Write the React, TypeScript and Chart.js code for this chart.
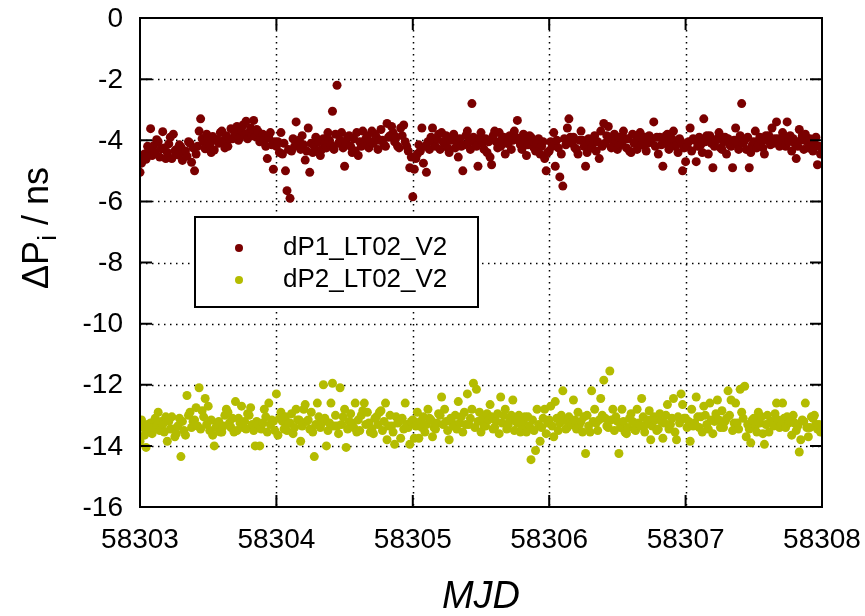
import React, { useEffect, useRef } from 'react';
import { Chart, registerables } from 'chart.js';

Chart.register(...registerables);

// Sampling grid: 16-minute tracks (90 per day) starting at MJD 58303
const MJD_START = 58303;
const SAMPLES_PER_DAY = 90;

const X_TICKS = [58303, 58304, 58305, 58306, 58307, 58308];
const Y_TICKS = [0, -2, -4, -6, -8, -10, -12, -14, -16];
const SERIES_LABELS = ['dP1_LT02_V2', 'dP2_LT02_V2'];
const SERIES_COLORS = ['#7a0000', '#b4bc00'];
const X_TITLE = 'MJD';

// dP1_LT02_V2 (ns)
const dP1 = [
  -5.05, -4.75, -4.58, -4.45, -4.62, -4.20, -4.30, -3.62, -4.50, -4.18, -4.42, -3.98,
  -4.05, -4.55, -4.28, -3.72, -4.25, -4.60, -4.40, -4.12, -3.90, -4.60, -3.80, -4.35,
  -4.30, -4.48, -4.15, -4.22, -4.66, -4.40, -4.35, -4.52, -4.05, -4.10, -4.72, -4.25,
  -5.00, -4.45, -4.20, -3.70, -3.30, -3.95, -4.05, -4.28, -3.80, -3.95, -4.15, -4.40,
  -3.88, -4.32, -4.00, -3.98, -4.10, -3.75, -3.70, -4.02, -4.25, -3.85, -4.20, -3.95,
  -3.62, -3.95, -3.70, -3.78, -3.55, -4.00, -3.90, -3.68, -3.50, -3.82, -3.38, -3.95,
  -3.75, -3.60, -3.85, -3.35, -3.88, -3.65, -3.72, -4.05, -3.90, -3.80, -4.00, -4.20,
  -4.60, -3.92, -3.75, -4.15, -4.95, -4.05,

  -4.20, -4.05, -4.40, -3.75, -4.45, -4.10, -5.00, -5.65, -4.30, -5.90, -4.35, -3.95,
  -4.20, -3.40, -4.15, -4.00, -4.30, -3.85, -4.15, -4.65, -4.35, -3.60, -5.05, -4.10,
  -4.40, -4.20, -3.90, -4.35, -4.05, -4.50, -4.30, -3.95, -4.10, -4.25, -3.75, -4.00,
  -4.15, -3.05, -4.30, -3.80, -2.20, -4.10, -4.00, -3.75, -4.25, -4.85, -4.10, -3.90,
  -3.85, -4.20, -4.40, -3.95, -4.35, -3.75, -4.50, -4.05, -4.20, -3.70, -4.15, -3.95,
  -3.85, -4.25, -4.05, -3.70, -4.10, -3.80, -3.90, -4.30, -4.00, -3.65, -4.00, -4.15,
  -4.20, -3.45, -3.90, -3.85, -3.55, -3.75, -4.05, -3.90, -4.20, -4.25, -3.60, -3.85,
  -3.50, -4.05, -4.20, -4.35, -4.90, -4.55,

  -5.85, -4.95, -4.60, -4.45, -4.15, -4.35, -3.60, -4.75, -4.20, -5.05, -4.05, -4.30,
  -3.90, -3.60, -4.10, -4.20, -3.95, -3.80, -4.30, -3.75, -4.05, -4.10, -3.85, -4.25,
  -4.40, -4.00, -3.90, -3.80, -4.25, -4.05, -4.55, -3.95, -4.20, -5.00, -4.15, -3.85,
  -3.70, -4.05, -4.30, -2.80, -3.90, -4.10, -4.20, -4.85, -3.95, -3.75, -4.10, -4.30,
  -3.95, -4.40, -4.05, -4.55, -4.80, -3.85, -3.70, -4.05, -4.25, -3.75, -4.20, -3.95,
  -3.90, -4.45, -4.10, -4.10, -3.85, -4.30, -4.00, -3.70, -3.90, -3.35, -4.00, -4.15,
  -4.30, -3.80, -4.00, -4.50, -4.15, -3.85, -3.90, -4.05, -4.25, -4.35, -4.10, -3.95,
  -4.45, -4.20, -4.05, -4.60, -5.00, -4.40,

  -4.35, -4.05, -4.20, -3.75, -4.85, -4.00, -4.25, -5.20, -4.45, -5.50, -3.95, -4.15,
  -3.60, -3.30, -3.90, -4.10, -3.90, -4.25, -4.30, -4.45, -4.00, -3.70, -4.00, -4.20,
  -4.85, -4.40, -3.95, -4.05, -4.25, -4.10, -3.85, -4.35, -4.05, -4.60, -3.70, -4.20,
  -3.45, -4.10, -3.85, -3.55, -3.95, -4.25, -4.20, -3.80, -4.00, -4.30, -3.90, -4.15,
  -4.10, -3.70, -3.95, -4.25, -3.95, -4.35, -4.40, -3.80, -4.10, -4.05, -4.30, -3.90,
  -3.75, -4.15, -4.00, -3.90, -4.35, -4.10, -3.85, -4.05, -3.95, -3.40, -4.20, -3.90,
  -4.45, -3.90, -4.15, -4.85, -4.10, -3.85, -3.80, -4.30, -4.05, -3.95, -3.70, -4.20,
  -4.15, -4.40, -3.95, -4.05, -5.00, -4.25,

  -4.70, -4.20, -4.05, -3.60, -4.35, -3.95, -4.00, -4.70, -4.20, -3.90, -4.15, -4.40,
  -3.30, -4.05, -3.85, -4.45, -3.85, -4.10, -4.90, -4.20, -4.00, -3.95, -3.75, -4.25,
  -4.30, -4.05, -3.90, -4.45, -3.95, -4.15, -4.20, -4.90, -4.00, -3.60, -4.10, -4.30,
  -3.85, -2.80, -4.10, -4.00, -4.30, -3.90, -4.90, -4.40, -4.15, -4.05, -3.70, -4.25,
  -4.15, -3.90, -4.05, -4.25, -4.45, -3.85, -4.00, -3.85, -4.15, -3.60, -4.10, -3.95,
  -3.40, -3.95, -4.20, -4.00, -3.75, -3.90, -4.20, -3.40, -4.05, -3.85, -4.35, -3.95,
  -4.10, -4.60, -4.20, -3.65, -4.00, -3.85, -4.30, -3.80, -4.05, -4.25, -3.95, -4.15,
  -4.35, -4.10, -3.90, -4.80, -4.20, -4.45,
];

// dP2_LT02_V2 (ns)
const dP2 = [
  -13.85, -13.15, -13.40, -13.65, -14.05, -13.30, -13.45, -13.25, -13.60, -13.40, -13.10, -13.35,
  -12.90, -13.50, -13.20, -13.30, -13.55, -13.05, -13.85, -13.20, -13.45, -13.05, -13.45, -13.70,
  -13.60, -13.35, -13.10, -14.35, -13.20, -13.50, -13.65, -12.35, -13.00, -12.90, -13.40, -13.20,
  -13.15, -12.75, -13.35, -12.10, -13.45, -12.85, -13.05, -12.45, -13.30, -12.70, -13.50, -13.15,
  -13.65, -14.00, -13.40, -13.30, -13.20, -13.55, -13.55, -13.35, -13.00, -12.80, -12.90, -13.25,
  -13.40, -13.10, -13.55, -12.55, -13.50, -13.10, -13.25, -12.70, -13.40, -13.20, -13.45, -12.95,
  -13.00, -12.75, -13.30, -13.50, -14.00, -13.20, -13.30, -14.00, -13.45, -13.25, -12.80, -13.05,
  -13.55, -12.60, -13.30, -13.15, -13.20, -13.50,

  -12.30, -13.65, -13.10, -12.90, -13.20, -13.45, -13.05, -13.50, -13.25, -13.25, -12.95, -13.60,
  -13.40, -12.80, -13.15, -13.15, -13.85, -13.35, -12.80, -12.65, -13.20, -13.15, -13.45, -12.90,
  -13.55, -14.35, -13.30, -12.60, -13.05, -13.40, -13.25, -12.00, -13.10, -14.00, -13.50, -13.25,
  -12.60, -11.95, -13.35, -13.00, -13.35, -13.60, -12.10, -13.30, -13.05, -12.80, -14.05, -13.45,
  -13.20, -12.95, -13.25, -13.40, -12.60, -13.55, -13.15, -13.50, -13.00, -12.85, -12.60, -13.30,
  -12.90, -13.25, -13.55, -13.45, -13.60, -13.10, -13.05, -13.30, -12.90, -12.85, -13.50, -13.20,
  -12.60, -13.80, -13.35, -13.00, -13.35, -13.55, -13.95, -13.05, -13.25, -13.20, -13.75, -13.10,
  -13.45, -12.60, -13.30, -13.40, -13.95, -13.20,

  -13.15, -13.75, -13.35, -12.90, -13.75, -13.20, -13.40, -13.05, -13.55, -13.30, -12.80, -13.10,
  -13.15, -13.70, -13.40, -13.45, -13.25, -12.95, -13.00, -12.40, -13.30, -12.80, -13.20, -13.50,
  -13.80, -13.10, -13.25, -13.35, -13.00, -13.45, -12.55, -13.25, -13.05, -13.55, -12.90, -13.30,
  -12.30, -13.30, -13.10, -12.80, -11.95, -13.40, -12.15, -13.20, -12.90, -13.55, -13.10, -13.35,
  -13.35, -12.95, -13.15, -12.65, -13.05, -13.45, -13.40, -13.20, -12.95, -13.60, -12.40, -13.25,
  -13.00, -12.80, -13.45, -13.30, -13.15, -13.00, -12.50, -13.50, -13.20, -13.25, -13.00, -13.55,
  -13.40, -13.20, -13.05, -13.55, -13.05, -13.35, -14.45, -13.15, -13.50, -14.15, -12.80, -13.30,
  -13.85, -13.40, -13.10, -12.80, -13.60, -13.25,

  -13.15, -12.70, -13.35, -13.70, -12.55, -13.10, -13.50, -13.25, -13.00, -12.20, -13.15, -13.45,
  -13.40, -13.05, -13.25, -13.30, -12.50, -13.15, -13.45, -12.90, -13.30, -13.20, -13.55, -13.05,
  -14.25, -13.00, -13.35, -13.55, -12.20, -13.20, -12.80, -13.25, -13.50, -13.15, -12.45, -13.00,
  -11.85, -13.10, -13.35, -13.40, -11.55, -13.15, -12.80, -13.50, -13.05, -13.20, -14.25, -13.40,
  -12.80, -13.20, -13.55, -13.60, -13.40, -13.10, -12.95, -13.20, -13.45, -13.50, -12.80, -13.25,
  -13.35, -12.45, -13.05, -13.55, -13.30, -13.15, -12.85, -13.80, -13.35, -13.05, -13.15, -13.50,
  -13.45, -12.95, -13.20, -13.75, -13.25, -13.00, -12.65, -13.45, -13.30, -13.10, -12.45, -13.55,
  -13.80, -13.05, -13.25, -12.30, -12.65, -13.10,

  -13.10, -13.40, -13.20, -13.85, -12.80, -13.35, -13.25, -12.40, -13.05, -13.40, -13.05, -13.55,
  -12.70, -13.00, -13.30, -13.45, -12.60, -13.15, -13.60, -13.20, -12.95, -12.50, -13.15, -13.40,
  -12.85, -13.40, -13.20, -13.10, -12.20, -13.00, -12.50, -13.50, -13.25, -12.60, -13.25, -13.45,
  -12.15, -12.90, -13.10, -12.05, -13.70, -13.30, -13.45, -13.90, -13.15, -13.10, -13.35, -13.55,
  -12.90, -13.25, -13.05, -13.60, -13.95, -13.30, -13.00, -13.55, -13.20, -13.20, -13.35, -12.95,
  -12.60, -13.15, -13.40, -13.30, -12.60, -13.10, -13.40, -13.05, -13.25, -13.20, -13.65, -13.00,
  -13.25, -13.50, -13.35, -14.20, -13.80, -13.15, -13.20, -12.60, -13.40, -13.70, -13.40, -13.05,
  -13.10, -13.00, -13.30, -13.45, -13.30, -13.55,
];

const SERIES = [dP1, dP2];

const FONT = "'Liberation Sans', Arial, sans-serif";

const framePlugin = {
  id: 'gnuplotFrame',
  beforeDatasetsDraw(chart: any) {
    const { ctx, chartArea } = chart;
    const xs = chart.scales.x;
    const ys = chart.scales.y;
    ctx.save();
    ctx.strokeStyle = '#000';
    ctx.lineWidth = 1.5;
    ctx.setLineDash([1.5, 4.5]);
    X_TICKS.forEach((v) => {
      const px = Math.round(xs.getPixelForValue(v)) + 0.5;
      if (px <= chartArea.left + 2 || px >= chartArea.right - 2) return;
      ctx.beginPath();
      ctx.moveTo(px, chartArea.top);
      ctx.lineTo(px, chartArea.bottom);
      ctx.stroke();
    });
    Y_TICKS.forEach((v) => {
      const py = Math.round(ys.getPixelForValue(v)) + 0.5;
      if (py <= chartArea.top + 2 || py >= chartArea.bottom - 2) return;
      ctx.beginPath();
      ctx.moveTo(chartArea.left, py);
      ctx.lineTo(chartArea.right, py);
      ctx.stroke();
    });
    ctx.restore();
  },
  afterDatasetsDraw(chart: any) {
    const { ctx, chartArea } = chart;
    const xs = chart.scales.x;
    const ys = chart.scales.y;
    const { left, right, top, bottom } = chartArea;
    ctx.save();
    ctx.setLineDash([]);
    ctx.strokeStyle = '#000';
    ctx.lineWidth = 2;
    // inward tick marks on all four sides
    const TL = 12;
    X_TICKS.forEach((v) => {
      const px = xs.getPixelForValue(v);
      ctx.beginPath();
      ctx.moveTo(px, bottom);
      ctx.lineTo(px, bottom - TL);
      ctx.moveTo(px, top);
      ctx.lineTo(px, top + TL);
      ctx.stroke();
    });
    Y_TICKS.forEach((v) => {
      const py = ys.getPixelForValue(v);
      ctx.beginPath();
      ctx.moveTo(left, py);
      ctx.lineTo(left + TL, py);
      ctx.moveTo(right, py);
      ctx.lineTo(right - TL, py);
      ctx.stroke();
    });
    ctx.strokeRect(left, top, right - left, bottom - top);

    // tick labels
    ctx.fillStyle = '#000';
    ctx.font = `28px ${FONT}`;
    ctx.textBaseline = 'middle';
    ctx.textAlign = 'center';
    X_TICKS.forEach((v) => {
      ctx.fillText(String(v), xs.getPixelForValue(v), bottom + 33);
    });
    ctx.textAlign = 'right';
    Y_TICKS.forEach((v) => {
      ctx.fillText(String(v), left - 17, ys.getPixelForValue(v) + 1);
    });

    // legend box
    const bx = 195, by = 217, bw = 283, bh = 90;
    ctx.fillStyle = '#fff';
    ctx.fillRect(bx, by, bw, bh);
    ctx.lineWidth = 2;
    ctx.strokeRect(bx, by, bw, bh);
    ctx.font = `26px ${FONT}`;
    ctx.textBaseline = 'middle';
    ctx.textAlign = 'left';
    SERIES_LABELS.forEach((lab, i) => {
      const cy = 248 + i * 32;
      ctx.beginPath();
      ctx.fillStyle = SERIES_COLORS[i];
      ctx.arc(239, cy, 4, 0, Math.PI * 2);
      ctx.fill();
      ctx.fillStyle = '#000';
      ctx.fillText(lab, 283, cy);
    });

    // x title
    ctx.font = `italic 38px ${FONT}`;
    ctx.textAlign = 'center';
    ctx.textBaseline = 'middle';
    ctx.fillStyle = '#000';
    ctx.fillText(X_TITLE, (left + right) / 2, 597);

    // y title: ΔP_i / ns
    ctx.save();
    ctx.translate(36, 228);
    ctx.rotate(-Math.PI / 2);
    const big = `36px ${FONT}`;
    const small = `26px ${FONT}`;
    ctx.font = big;
    const w1 = ctx.measureText('ΔP').width;
    const w3 = ctx.measureText(' / ns').width;
    ctx.font = small;
    const w2 = ctx.measureText('i').width;
    const total = w1 + w2 + w3;
    let x0 = -total / 2;
    ctx.textAlign = 'left';
    ctx.textBaseline = 'alphabetic';
    ctx.font = big;
    ctx.fillText('ΔP', x0, 12);
    x0 += w1;
    ctx.font = small;
    ctx.fillText('i', x0, 20);
    x0 += w2;
    ctx.font = big;
    ctx.fillText(' / ns', x0, 12);
    ctx.restore();

    ctx.restore();
  },
};

export default function App() {
  const ref = useRef<HTMLCanvasElement | null>(null);
  useEffect(() => {
    document.body.style.margin = '0';
    const canvas = ref.current;
    if (!canvas) return;
    const datasets = SERIES.map((vals, k) => ({
      label: SERIES_LABELS[k],
      data: vals.map((v, i) => ({ x: MJD_START + i / SAMPLES_PER_DAY, y: v })),
      backgroundColor: SERIES_COLORS[k],
      borderColor: SERIES_COLORS[k],
      pointRadius: 4.5,
      pointBorderWidth: 0,
      showLine: false,
    }));
    const chart = new Chart(canvas, {
      type: 'scatter',
      data: { datasets },
      options: {
        animation: false,
        responsive: false,
        devicePixelRatio: 1,
        layout: { padding: { left: 0, top: 18, right: 43, bottom: 0 } },
        plugins: { legend: { display: false }, tooltip: { enabled: false } },
        scales: {
          x: {
            type: 'linear',
            min: 58303,
            max: 58308,
            afterBuildTicks: (s: any) => {
              s.ticks = X_TICKS.map((v) => ({ value: v }));
            },
            afterFit: (s: any) => {
              s.height = 109;
            },
            grid: { display: false, drawTicks: false },
            border: { display: false },
            ticks: { display: false },
          },
          y: {
            type: 'linear',
            min: -16,
            max: 0,
            afterBuildTicks: (s: any) => {
              s.ticks = Y_TICKS.map((v) => ({ value: v }));
            },
            afterFit: (s: any) => {
              s.width = 140;
            },
            grid: { display: false, drawTicks: false },
            border: { display: false },
            ticks: { display: false },
          },
        },
      },
      plugins: [framePlugin],
    });
    return () => chart.destroy();
  }, []);
  return (
    <div style={{ position: 'fixed', left: 0, top: 0, width: 865, height: 616, background: '#fff' }}>
      <canvas ref={ref} width={865} height={616} style={{ width: 865, height: 616, display: 'block' }} />
    </div>
  );
}
